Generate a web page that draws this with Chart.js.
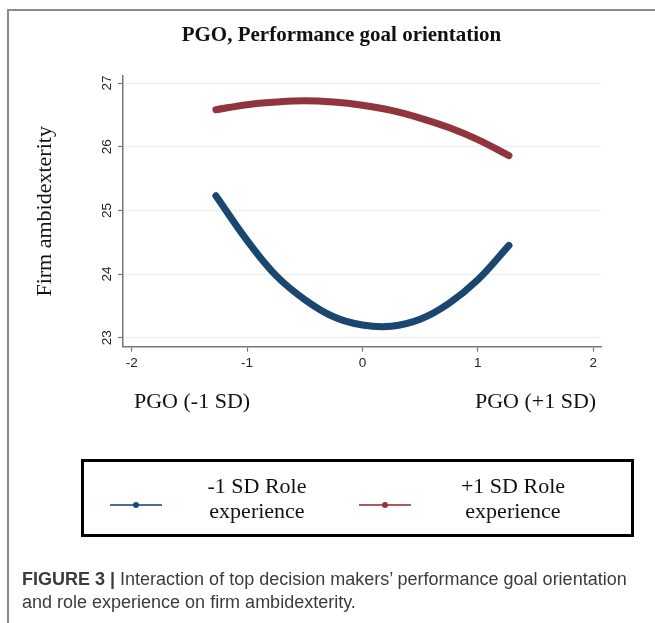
<!DOCTYPE html>
<html>
<head>
<meta charset="utf-8">
<script src="https://cdn.jsdelivr.net/npm/chart.js@4.4.0/dist/chart.umd.min.js"></script>
<style>
    body { margin: 0; background: #fff; }
    #wrap { position: relative; width: 655px; height: 623px; overflow: hidden; }
    #chart { position: absolute; left: 0; top: 0; }
    .frame { position: absolute; left: 7px; top: 9px; width: 700px; height: 700px; border-left: 2px solid #8a8a8a; border-top: 2px solid #8a8a8a; }
    .serif { position: absolute; font-family: 'Liberation Serif', 'Times New Roman', serif; color: #111; white-space: nowrap; }
    .title { left: 0; width: 683px; top: 22px; text-align: center; font-weight: bold; font-size: 21px; }
    .legend { position: absolute; left: 81px; top: 459px; width: 547px; height: 72px; border: 3px solid #000; }
    .item { position: absolute; top: 11px; width: 200px; text-align: center; font-size: 22px; line-height: 25px; }
    .sample { position: absolute; top: 42px; width: 52px; height: 2px; }
    .sample i { position: absolute; left: 23px; top: -2px; width: 6px; height: 6px; border-radius: 50%; }
    .caption { position: absolute; left: 22px; top: 568px; font-family: 'Liberation Sans', Arial, sans-serif; font-size: 18px; line-height: 23px; color: #3b3b3b; white-space: nowrap; }
</style>
</head>
<body>
<div id="wrap">
    <div class="frame"></div>
    <canvas id="chart" width="655" height="623"></canvas>
    <div class="serif title">PGO, Performance goal orientation</div>
    <div class="serif" id="lowLabel" style="left:134px; top:388px; font-size:22px;">PGO (-1 SD)</div>
    <div class="serif" id="highLabel" style="left:475px; top:388px; font-size:22px;">PGO (+1 SD)</div>
    <div class="legend">
        <div class="sample" id="sampleLow" style="left:26px;"><i></i></div>
        <div class="serif item" style="left:73px;">-1 SD Role<br>experience</div>
        <div class="sample" id="sampleHigh" style="left:275px;"><i></i></div>
        <div class="serif item" style="left:329px;">+1 SD Role<br>experience</div>
    </div>
    <div class="caption"><b>FIGURE 3 |</b> Interaction of top decision makers’ performance goal orientation<br>and role experience on firm ambidexterity.</div>
</div>
<script>
const pgoValues = [-1.27, -1, -0.75, -0.5, -0.25, 0, 0.25, 0.5, 0.75, 1, 1.27];
const lowRoleExperience = [25.23, 24.53, 23.98, 23.60, 23.33, 23.20, 23.18, 23.29, 23.54, 23.91, 24.45];
const highRoleExperience = [26.58, 26.66, 26.70, 26.72, 26.70, 26.65, 26.57, 26.45, 26.30, 26.11, 25.86];
const seriesLabels = ['-1 SD Role experience', '+1 SD Role experience'];
const seriesColors = ['#1a476f', '#90353b'];
const xTicks = [-2, -1, 0, 1, 2];
const yTicks = [23, 24, 25, 26, 27];

function toPoints(values) {
    return pgoValues.map((x, i) => ({ x: x, y: values[i] }));
}

document.querySelector('#sampleLow').style.background = '#4a6e96';
document.querySelector('#sampleLow i').style.background = seriesColors[0];
document.querySelector('#sampleHigh').style.background = '#b05a60';
document.querySelector('#sampleHigh i').style.background = seriesColors[1];

const tickFont = { family: 'Liberation Sans', size: 13.5 };

new Chart(document.getElementById('chart'), {
    type: 'line',
    data: {
        datasets: [lowRoleExperience, highRoleExperience].map((values, i) => ({
            label: seriesLabels[i],
            data: toPoints(values),
            borderColor: seriesColors[i],
            borderWidth: 7,
            borderCapStyle: 'round',
            borderJoinStyle: 'round',
            pointRadius: 0,
            tension: 0.4,
            fill: false
        }))
    },
    options: {
        responsive: false,
        animation: false,
        layout: { padding: { top: 76, right: 53.5, left: 0, bottom: 0 } },
        plugins: {
            legend: { display: false },
            tooltip: { enabled: false }
        },
        scales: {
            x: {
                type: 'linear',
                min: -2.075,
                max: 2.072,
                afterFit: (scale) => { scale.height = 623 - 346.7; },
                afterBuildTicks: (scale) => { scale.ticks = xTicks.map(v => ({ value: v })); },
                ticks: { font: tickFont, color: '#222', padding: 3, includeBounds: false },
                grid: { drawOnChartArea: false, tickLength: 5, tickColor: '#777', tickWidth: 1.2 },
                border: { color: '#777', width: 1.5 }
            },
            y: {
                min: 22.86,
                max: 27.11,
                afterFit: (scale) => { scale.width = 123; },
                afterBuildTicks: (scale) => { scale.ticks = yTicks.map(v => ({ value: v })); },
                ticks: { font: tickFont, color: '#222', padding: 3, minRotation: 90, maxRotation: 90, crossAlign: 'center', includeBounds: false },
                grid: { color: '#e4f0f2', lineWidth: 1, tickLength: 5, tickColor: '#777', tickWidth: 1.2 },
                border: { color: '#777', width: 1.5 },
                title: {
                    display: true,
                    text: 'Firm ambidexterity',
                    font: { family: 'Liberation Serif', size: 22 },
                    color: '#111',
                    padding: { top: 32, bottom: 0 }
                }
            }
        }
    }
});
</script>
</body>
</html>
